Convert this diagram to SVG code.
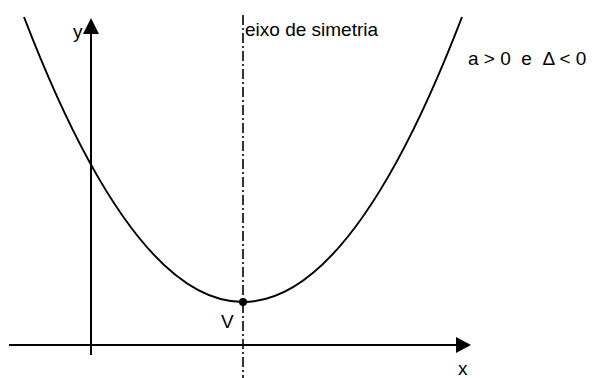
<svg xmlns="http://www.w3.org/2000/svg" width="592" height="378" viewBox="0 0 592 378">
<style>
.t{font-family:"Liberation Sans",Arial,sans-serif;fill:#000;font-size:19px}
.ax{stroke:#000;stroke-width:2;fill:none}
</style>
<rect width="592" height="378" fill="#fff"/>
<g id="connectors">
<line id="x-axis" class="ax" x1="9" y1="345" x2="458" y2="345"/>
<path d="M456,337 L471,345 L456,353 Z" fill="#000"/>
<line id="y-axis" class="ax" x1="91" y1="355" x2="91" y2="32"/>
<path d="M83,34 L91,18 L99,34 Z" fill="#000"/>
<line id="symmetry" x1="243" y1="15" x2="243" y2="378" stroke="#000" stroke-width="1.6" stroke-dasharray="10,3,2,3"/>
<path id="parabola" d="M24,17 Q243,587 462,17" fill="none" stroke="#000" stroke-width="2"/>
</g>
<g id="vertex"><circle cx="243" cy="302" r="4" fill="#000"/><text class="t" x="221" y="328">V</text></g>
<g id="label-y"><text class="t" x="73" y="38">y</text></g>
<g id="label-x"><text class="t" x="458" y="375">x</text></g>
<g id="label-axis"><text class="t" x="245" y="36">eixo de simetria</text></g>
<g id="label-cond"><text class="t" x="468" y="65" xml:space="preserve">a &gt; 0  e  Δ &lt; 0</text></g>
</svg>
